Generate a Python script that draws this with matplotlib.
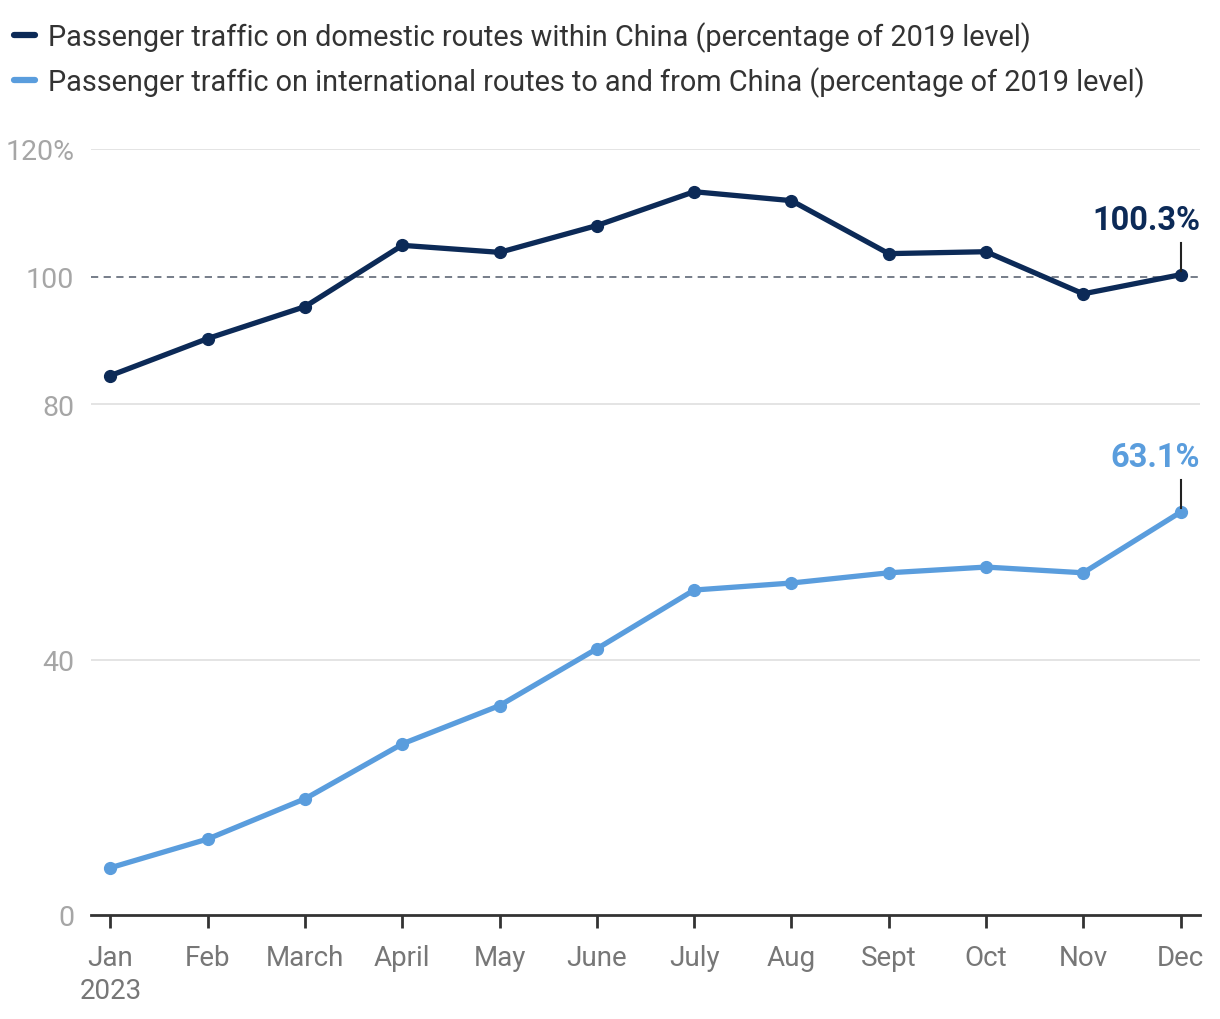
import matplotlib.pyplot as plt
from matplotlib.lines import Line2D

months = ['Jan\n2023', 'Feb', 'March', 'April', 'May', 'June', 'July',
          'Aug', 'Sept', 'Oct', 'Nov', 'Dec']
domestic = [84.5, 90.3, 95.3, 104.9, 103.8, 108.0, 113.3, 111.9, 103.6, 103.9, 97.3, 100.3]
international = [7.4, 11.9, 18.2, 26.8, 32.8, 41.7, 50.9, 52.0, 53.6, 54.5, 53.6, 63.1]
yticks = [0, 40, 80, 100, 120]
ytick_labels = ['0', '40', '80', '100', '120%']
legend_labels = ['Passenger traffic on domestic routes within China (percentage of 2019 level)',
                 'Passenger traffic on international routes to and from China (percentage of 2019 level)']

dark = '#0c2a57'
light = '#5a9ddd'

plt.rcParams['font.family'] = ['Roboto', 'DejaVu Sans']

fig = plt.figure(figsize=(12.2, 10.2), dpi=100)
ax = fig.add_axes([0.0746, 0.102, 0.909, 0.751])

x = list(range(len(months)))
ax.plot(x, domestic, color=dark, lw=3.8, marker='o', ms=8.5, zorder=3)
ax.plot(x, international, color=light, lw=3.8, marker='o', ms=8.5, zorder=3)

ax.set_xlim(-0.2, 11.2)
ax.set_ylim(0, 120)

for v in yticks:
    if v == 100:
        ax.axhline(v, color='#6b7380', lw=1.3, ls=(0, (4, 3)), zorder=1)
    elif v > 0:
        ax.axhline(v, color='#e2e2e2', lw=1.3, zorder=1)

for s in ['top', 'right', 'left']:
    ax.spines[s].set_visible(False)
ax.spines['bottom'].set_color('#333333')
ax.spines['bottom'].set_linewidth(2)

ax.set_yticks(yticks)
ax.set_yticklabels(ytick_labels)
ax.tick_params(axis='y', length=0, pad=12, labelsize=20.5, labelcolor='#a6a6a6')
ax.set_xticks(x)
ax.set_xticklabels(months, linespacing=1.3)
ax.tick_params(axis='x', length=9, width=2, color='#333333', pad=12,
               labelsize=20, labelcolor='#777777')

# end labels
for vals, col in [(domestic, dark), (international, light)]:
    last = vals[-1]
    ax.plot([11, 11], [last + 0.6, last + 5], color='#222222', lw=1.5, zorder=4)
    ax.text(11.2, last + 8.6, f'{last}%', color=col, fontsize=23.5,
            fontweight='bold', ha='right', va='center')

# legend drawn by hand to sit like the original
for i, (lab, col) in enumerate(zip(legend_labels, [dark, light])):
    yy = 1 - (36 + 45 * i) / 1020
    fig.add_artist(Line2D([14 / 1220, 35 / 1220], [yy, yy], color=col, lw=4.5,
                          solid_capstyle='round', transform=fig.transFigure))
    fig.text(48 / 1220, yy - 2 / 1020, lab, color='#333333', fontsize=20.8, va='center')

fig.savefig('out.png', dpi=100)
